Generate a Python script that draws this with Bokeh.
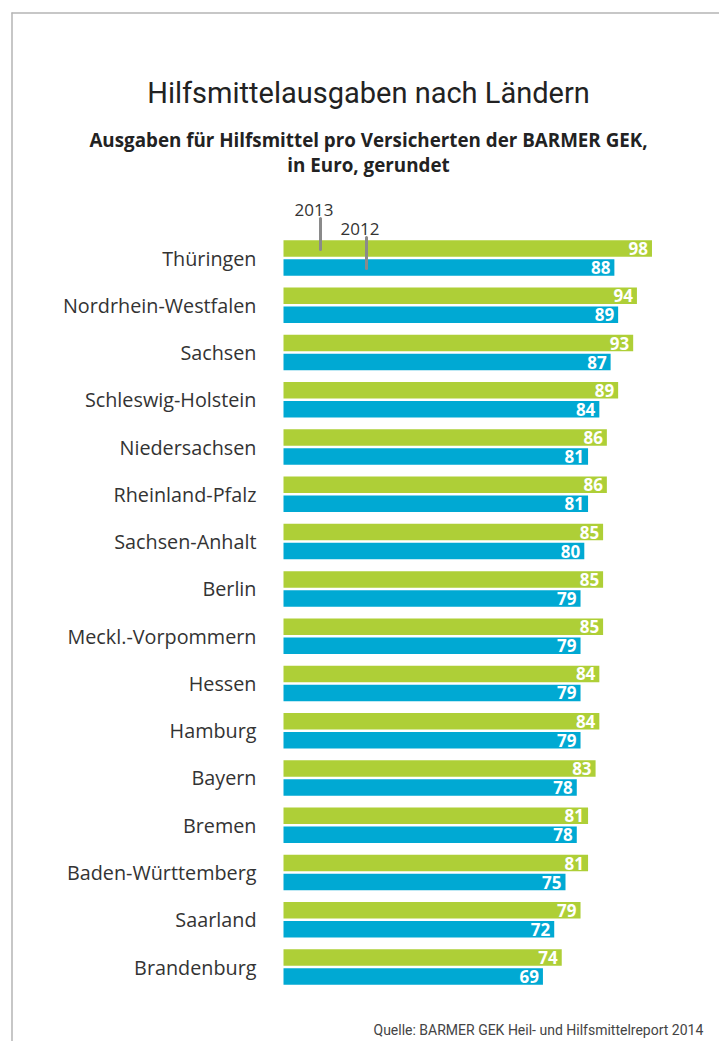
from bokeh.plotting import figure
from bokeh.models import Range1d, ColumnDataSource
from bokeh.core.properties import value
from bokeh.embed import file_html
from bokeh.resources import INLINE

laender = ["Thüringen", "Nordrhein-Westfalen", "Sachsen", "Schleswig-Holstein",
           "Niedersachsen", "Rheinland-Pfalz", "Sachsen-Anhalt", "Berlin",
           "Meckl.-Vorpommern", "Hessen", "Hamburg", "Bayern", "Bremen",
           "Baden-Württemberg", "Saarland", "Brandenburg"]
w2013 = [98, 94, 93, 89, 86, 86, 85, 85, 85, 84, 84, 83, 81, 81, 79, 74]
w2012 = [88, 89, 87, 84, 81, 81, 80, 79, 79, 79, 79, 78, 78, 75, 72, 69]
serien = ["2013", "2012"]

title = "Hilfsmittelausgaben nach Ländern"
subtitle = ["Ausgaben für Hilfsmittel pro Versicherten der BARMER GEK,", "in Euro, gerundet"]
source_text = "Quelle: BARMER GEK Heil- und Hilfsmittelreport 2014"

GREEN = "#aecf37"
BLUE = "#00a9d3"
TXT = "#333333"
FONT = value("Roboto")
FONT2 = value("Open Sans")

W, H = 719, 1041
X0 = 283.0      # page x of value 0
SX = 3.76       # px per euro
Y0 = 257.5      # page y of first row centre
SY = 47.27      # px per row


def px(x):
    return (x - X0) / SX


def py(y):
    return (y - Y0) / SY


x_start = px(0)
y_top = py(0)
p = figure(width=W, height=H, output_backend="svg", toolbar_location=None,
           x_range=Range1d(x_start, x_start + W / SX),
           y_range=Range1d(y_top + H / SY, y_top),
           min_border=0)
p.axis.visible = False
p.grid.visible = False
p.outline_line_color = None
p.background_fill_color = "white"
p.border_fill_color = "white"

# frame border of the infographic
p.segment(x0=[px(11.5), px(11)], y0=[py(12), py(12.5)],
          x1=[px(11.5), px(900)], y1=[py(1200), py(12.5)],
          line_color="#b4b4b4", line_width=1.5)

idx = list(range(len(laender)))
off = 9.5 / SY
bh = 16.5 / SY
src = ColumnDataSource(dict(
    land=laender, i=idx,
    y13=[i - off for i in idx], y12=[i + off for i in idx],
    v13=w2013, v12=w2012,
    t13=[str(v) for v in w2013], t12=[str(v) for v in w2012],
    x0=[0] * len(idx)))

p.hbar(y="y13", left=0, right="v13", height=bh, source=src,
       fill_color=GREEN, line_color=None)
p.hbar(y="y12", left=0, right="v12", height=bh, source=src,
       fill_color=BLUE, line_color=None)

p.text(x="v13", y="y13", text="t13", source=src, x_offset=-4,
       text_align="right", text_baseline="middle", text_color="white",
       text_font=FONT2, text_font_style="bold", text_font_size="17px")
p.text(x="v12", y="y12", text="t12", source=src, x_offset=-4,
       text_align="right", text_baseline="middle", text_color="white",
       text_font=FONT2, text_font_style="bold", text_font_size="17px")

p.text(x="x0", y="i", text="land", source=src, x_offset=-27,
       text_align="right", text_baseline="middle", text_color=TXT,
       text_font=FONT2, text_font_size="19.8px")

# legend callouts
p.segment(x0=[px(320), px(366)], y0=[py(218), py(237)],
          x1=[px(320), px(366)], y1=[py(249), py(268)],
          line_color="#8a8a8a", line_width=3, line_cap="round")
p.text(x=[px(313.5), px(359.5)], y=[py(209.5), py(228)], text=serien,
       text_align="center", text_baseline="middle", text_color=TXT,
       text_font=FONT2, text_font_size="17px")

# titles
p.text(x=[px(368)], y=[py(92)], text=[title], text_align="center",
       text_baseline="middle", text_color="#222222", text_font=FONT,
       text_font_size="29px")
p.text(x=[px(368), px(368)], y=[py(139), py(164)], text=subtitle,
       text_align="center", text_baseline="middle", text_color="#222222",
       text_font=FONT2, text_font_style="bold", text_font_size="18.8px")

p.text(x=[px(373)], y=[py(1029)], text=[source_text], text_align="left",
       text_baseline="middle", text_color="#444444", text_font=FONT,
       text_font_size="14px")

open("out.html", "w").write(file_html(p, INLINE))
